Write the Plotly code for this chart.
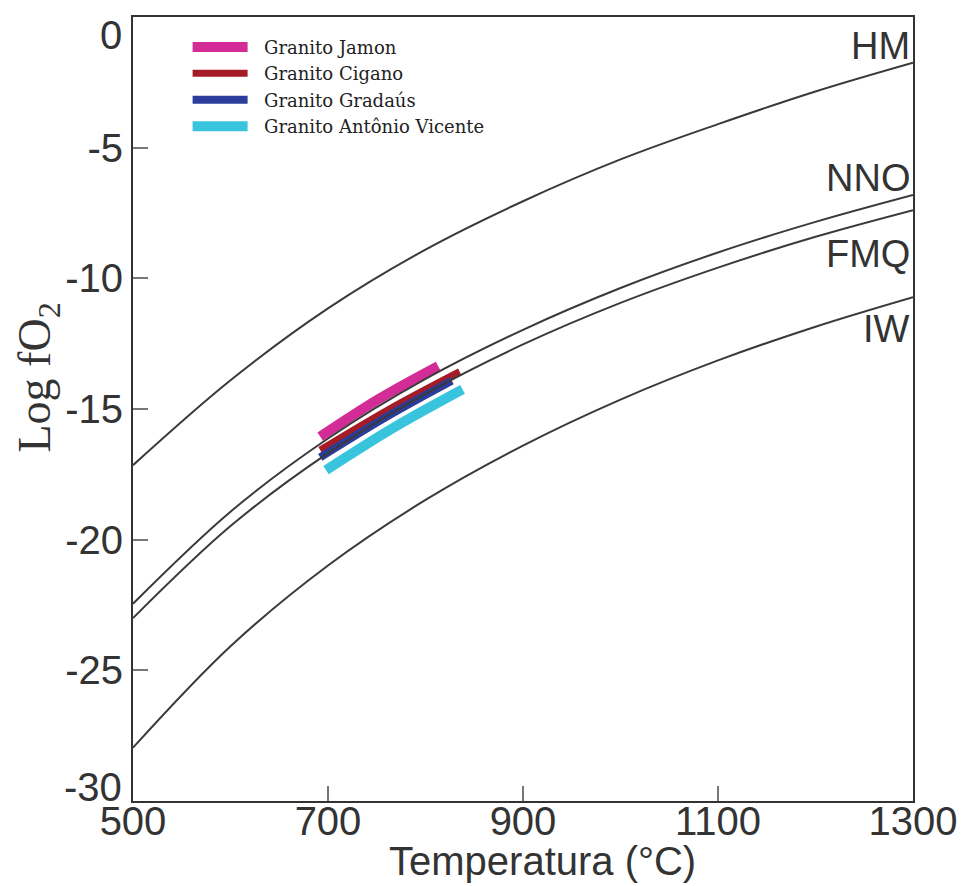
import plotly.graph_objects as go

# Buffer curves
temp = [500, 600, 700, 800, 900, 1000, 1100, 1200, 1300]
hm = [-17.15, -13.9, -11.15, -8.9, -7.05, -5.45, -4.1, -2.85, -1.75]
nno = [-22.45, -18.93, -16.13, -13.85, -11.97, -10.37, -9.01, -7.84, -6.81]
fmq = [-23.0, -19.48, -16.69, -14.42, -12.53, -10.94, -9.59, -8.41, -7.39]
iw = [-27.96, -24.08, -20.99, -18.48, -16.40, -14.64, -13.14, -11.85, -10.72]
buffer_names = ["HM", "NNO", "FMQ", "IW"]
buffer_label_y = [-1.1, -6.15, -9.05, -11.95]

# Granite bands
jamon_t = [692, 752, 813]
jamon = [-16.06, -14.62, -13.36]
cigano_t = [692, 764, 835]
cigano = [-16.57, -14.98, -13.57]
gradaus_t = [692, 760, 827]
gradaus = [-16.85, -15.3, -13.92]
av_t = [698, 768, 838]
av = [-17.34, -15.7, -14.25]

band_names = ["Granito Jamon", "Granito Cigano", "Granito Gradaús", "Granito Antônio Vicente"]
band_colors = ["#D42C96", "#A51C26", "#2B3C9A", "#38C4DC"]
band_widths = [10, 7, 8, 10]

x_ticks = [500, 700, 900, 1100, 1300]
y_ticks = [0, -5, -10, -15, -20, -25, -30]
y_ticktext = ["", "-5", "-10", "-15", "-20", "-25", ""]

fig = go.Figure()

for i, (name, t, v, c, w) in enumerate(zip(band_names, [jamon_t, cigano_t, gradaus_t, av_t],
                                           [jamon, cigano, gradaus, av], band_colors, band_widths)):
    fig.add_trace(go.Scatter(x=t, y=v, mode="lines", name="\u00a0\u00a0" + name,
                             legendgroup="g%d" % i,
                             line=dict(color=c, width=w, shape="spline")))

for name, v in zip(buffer_names, [hm, nno, fmq, iw]):
    fig.add_trace(go.Scatter(x=temp, y=v, mode="lines", name=name, showlegend=False,
                             line=dict(color="#3a3a3a", width=2, shape="spline")))

for name, yv in zip(buffer_names, buffer_label_y):
    fig.add_annotation(x=1299, y=yv, text=name, showarrow=False, xanchor="right",
                       yanchor="middle", font=dict(family="Liberation Sans", size=38, color="#333"))

# end tick labels, shifted inward as in the reference
fig.add_annotation(xref="paper", yref="paper", x=-0.011, y=0.977, text="0", showarrow=False,
                   xanchor="right", yanchor="middle",
                   font=dict(family="Liberation Sans", size=40, color="#333"))
fig.add_annotation(xref="paper", yref="paper", x=-0.011, y=0.018, text="-30", showarrow=False,
                   xanchor="right", yanchor="middle",
                   font=dict(family="Liberation Sans", size=40, color="#333"))

fig.add_annotation(xref="paper", yref="paper", x=0.525, y=-0.077, text="Temperatura (°C)",
                   showarrow=False, xanchor="center", yanchor="middle",
                   font=dict(family="Liberation Sans", size=40, color="#333"))
fig.add_annotation(xref="paper", yref="paper", x=-0.122, y=0.54, text="Log fO<sub>2</sub>",
                   showarrow=False, textangle=-90, xanchor="center", yanchor="middle",
                   font=dict(family="Liberation Serif", size=46, color="#333"))

axis_common = dict(showgrid=False, zeroline=False, showline=True, mirror=True,
                   linecolor="#333", linewidth=2, ticks="inside", ticklen=15,
                   tickcolor="#777", tickwidth=1.5,
                   tickfont=dict(family="Liberation Sans", size=40, color="#333"))

fig.update_xaxes(range=[500, 1300], tickvals=x_ticks, ticktext=[str(v) for v in x_ticks],
                 ticklabelstandoff=-16, **axis_common)
fig.update_yaxes(range=[-30, 0], tickvals=y_ticks, ticktext=y_ticktext, **axis_common)

fig.update_layout(
    width=969, height=886,
    margin=dict(l=133, r=52, t=17, b=85),
    paper_bgcolor="white", plot_bgcolor="white",
    showlegend=True,
    legend=dict(x=0.07, y=0.985, xanchor="left", yanchor="top", bgcolor="rgba(0,0,0,0)",
                font=dict(family="DejaVu Serif", size=18, color="#222"),
                itemwidth=55, tracegroupgap=0),
)

fig.write_html("out.html")
